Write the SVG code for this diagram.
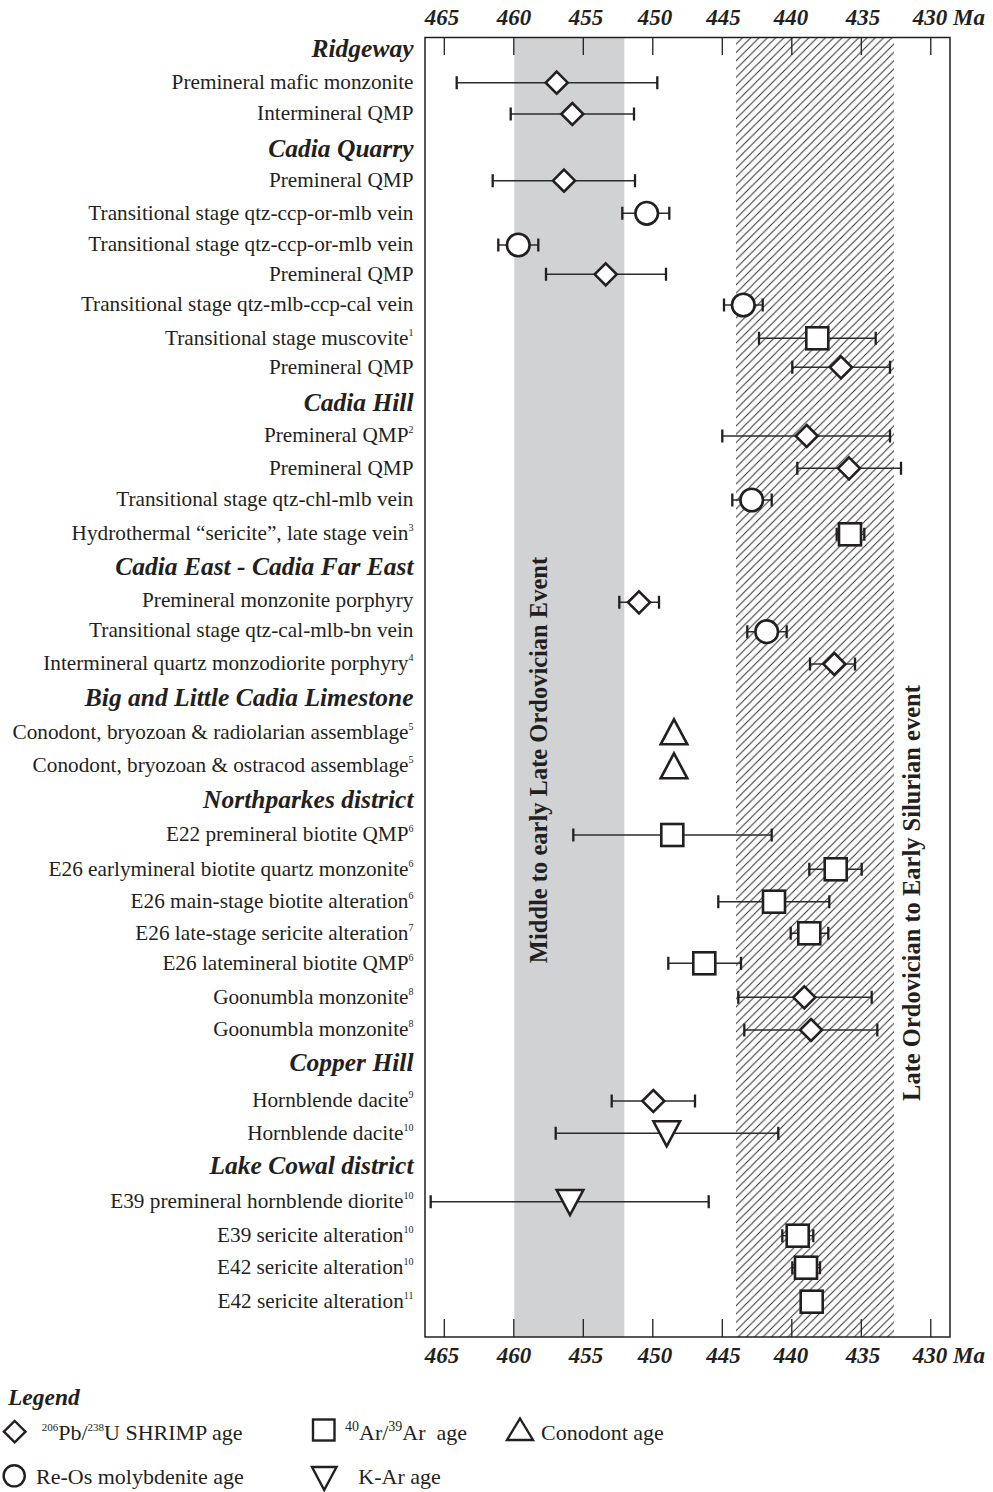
<svg xmlns="http://www.w3.org/2000/svg" width="993" height="1492" viewBox="0 0 993 1492">
<style>
text{font-family:"Liberation Serif","Times New Roman",serif;fill:#231f20}
.lbl{font-size:21.25px;text-anchor:end}
.hd{font-size:25.5px;font-weight:bold;font-style:italic;text-anchor:end}
.ax{font-size:23px;font-weight:bold;font-style:italic;text-anchor:middle}
.ev{font-size:24.5px;font-weight:bold;text-anchor:middle}
.lg{font-size:22px}
.sup{font-size:10px}
.eb{stroke:#2b2b2b;stroke-width:1.4;fill:none}
.cap{stroke:#231f20;stroke-width:2.3;fill:none}
.mk{fill:#fff;stroke:#231f20;stroke-width:2.6}
.lmk{fill:#fff;stroke:#231f20;stroke-width:2.4}
.tick{stroke:#231f20;stroke-width:1.3}
</style>
<defs>
<pattern id="hatch" patternUnits="userSpaceOnUse" width="8.3" height="8.3">
<path d="M-2,2L2,-2M0,8.3L8.3,0M6.3,10.3L10.3,6.3" stroke="#2e2e2e" stroke-width="1"/>
</pattern>
<path id="dia" d="M0,-11L11,0L0,11L-11,0Z"/>
<circle id="cir" r="11.3"/>
<rect id="sq" x="-11" y="-11" width="22" height="22"/>
<path id="tup" d="M0,-12.5L13.3,12.5L-13.3,12.5Z"/>
<path id="tdn" d="M-13.3,-12.5L13.3,-12.5L0,12.5Z"/>
</defs>

<g id="bands">
<rect x="514.3" y="37.5" width="110" height="1299.5" fill="#d1d2d4"/>
<rect x="736" y="37.5" width="158" height="1299.5" fill="url(#hatch)"/>
</g>

<g id="frame">
<rect x="425" y="37.5" width="525" height="1299.5" fill="none" stroke="#231f20" stroke-width="1.5"/>
<path class="tick" d="M444.3,37.5V55M513.8,37.5V55M583.3,37.5V55M652.8,37.5V55M722.3,37.5V55M791.8,37.5V55M861.3,37.5V55M930.8,37.5V55"/>
<path class="tick" d="M444.3,1319V1337M513.8,1319V1337M583.3,1319V1337M652.8,1319V1337M722.3,1319V1337M791.8,1319V1337M861.3,1319V1337M930.8,1319V1337"/>
</g>

<g id="axis-top">
<text class="ax" x="442" y="25">465</text>
<text class="ax" x="514" y="25">460</text>
<text class="ax" x="586" y="25">455</text>
<text class="ax" x="655" y="25">450</text>
<text class="ax" x="723.5" y="25">445</text>
<text class="ax" x="791" y="25">440</text>
<text class="ax" x="863" y="25">435</text>
<text class="ax" x="930" y="25">430</text>
<text class="ax" x="953" y="25" style="text-anchor:start">Ma</text>
</g>
<g id="axis-bottom">
<text class="ax" x="442" y="1363">465</text>
<text class="ax" x="514" y="1363">460</text>
<text class="ax" x="586" y="1363">455</text>
<text class="ax" x="655" y="1363">450</text>
<text class="ax" x="723.5" y="1363">445</text>
<text class="ax" x="791" y="1363">440</text>
<text class="ax" x="863" y="1363">435</text>
<text class="ax" x="930" y="1363">430</text>
<text class="ax" x="953" y="1363" style="text-anchor:start">Ma</text>
</g>

<g id="events">
<text class="ev" transform="translate(546.5,760) rotate(-90)">Middle to early Late Ordovician Event</text>
<text class="ev" transform="translate(920,893) rotate(-90)">Late Ordovician to Early Silurian event</text>
</g>

<g id="headings">
<text class="hd" x="413.5" y="57.3">Ridgeway</text>
<text class="hd" x="413.5" y="156.7">Cadia Quarry</text>
<text class="hd" x="413.5" y="411">Cadia Hill</text>
<text class="hd" x="413.5" y="575">Cadia East - Cadia Far East</text>
<text class="hd" x="413.5" y="705.7">Big and Little Cadia Limestone</text>
<text class="hd" x="413.5" y="807.5">Northparkes district</text>
<text class="hd" x="413.5" y="1070.5">Copper Hill</text>
<text class="hd" x="413.5" y="1173.5">Lake Cowal district</text>
</g>

<g id="connectors"></g>

<g id="r1"><text class="lbl" x="413.5" y="89.3">Premineral mafic monzonite</text>
<path class="eb" d="M456.7,82.7H657.3"/><path class="cap" d="M456.7,76.2v13M657.3,76.2v13"/>
<use href="#dia" class="mk" x="556.7" y="82.7"/></g>

<g id="r2"><text class="lbl" x="413.5" y="119.5">Intermineral QMP</text>
<path class="eb" d="M510.7,114H634"/><path class="cap" d="M510.7,107.5v13M634,107.5v13"/>
<use href="#dia" class="mk" x="572.3" y="114"/></g>

<g id="r4"><text class="lbl" x="413.5" y="187">Premineral QMP</text>
<path class="eb" d="M492.7,180.7H635"/><path class="cap" d="M492.7,174.2v13M635,174.2v13"/>
<use href="#dia" class="mk" x="564" y="180.7"/></g>

<g id="r5"><text class="lbl" x="413.5" y="219.5">Transitional stage qtz-ccp-or-mlb vein</text>
<path class="eb" d="M622.3,213.3H669.3"/><path class="cap" d="M622.3,206.8v13M669.3,206.8v13"/>
<use href="#cir" class="mk" x="646.7" y="213.3"/></g>

<g id="r6"><text class="lbl" x="413.5" y="251">Transitional stage qtz-ccp-or-mlb vein</text>
<path class="eb" d="M498.3,245H538.3"/><path class="cap" d="M498.3,238.5v13M538.3,238.5v13"/>
<use href="#cir" class="mk" x="518.3" y="245"/></g>

<g id="r7"><text class="lbl" x="413.5" y="280.5">Premineral QMP</text>
<path class="eb" d="M546,274.3H666"/><path class="cap" d="M546,267.8v13M666,267.8v13"/>
<use href="#dia" class="mk" x="605.7" y="274.3"/></g>

<g id="r8"><text class="lbl" x="413.5" y="311">Transitional stage qtz-mlb-ccp-cal vein</text>
<path class="eb" d="M724,305H762.7"/><path class="cap" d="M724,298.5v13M762.7,298.5v13"/>
<use href="#cir" class="mk" x="743.3" y="305"/></g>

<g id="r9"><text class="lbl" x="413.5" y="344.5">Transitional stage muscovite<tspan class="sup" dy="-9">1</tspan></text>
<path class="eb" d="M759,338.3H875.7"/><path class="cap" d="M759,331.8v13M875.7,331.8v13"/>
<use href="#sq" class="mk" x="817.3" y="338.3"/></g>

<g id="r10"><text class="lbl" x="413.5" y="373.5">Premineral QMP</text>
<path class="eb" d="M792.3,367.3H890"/><path class="cap" d="M792.3,360.8v13M890,360.8v13"/>
<use href="#dia" class="mk" x="841" y="367.3"/></g>

<g id="r12"><text class="lbl" x="413.5" y="442">Premineral QMP<tspan class="sup" dy="-9">2</tspan></text>
<path class="eb" d="M722.3,436H890"/><path class="cap" d="M722.3,429.5v13M890,429.5v13"/>
<use href="#dia" class="mk" x="806.7" y="436"/></g>

<g id="r13"><text class="lbl" x="413.5" y="474.5">Premineral QMP</text>
<path class="eb" d="M797.3,468.3H901"/><path class="cap" d="M797.3,461.8v13M901,461.8v13"/>
<use href="#dia" class="mk" x="849" y="468.3"/></g>

<g id="r14"><text class="lbl" x="413.5" y="506">Transitional stage qtz-chl-mlb vein</text>
<path class="eb" d="M732.3,500H771.7"/><path class="cap" d="M732.3,493.5v13M771.7,493.5v13"/>
<use href="#cir" class="mk" x="751.7" y="500"/></g>

<g id="r15"><text class="lbl" x="413.5" y="540">Hydrothermal “sericite”, late stage vein<tspan class="sup" dy="-9">3</tspan></text>
<path class="eb" d="M836.7,534.3H864.3"/><path class="cap" d="M836.7,527.8v13M864.3,527.8v13"/>
<use href="#sq" class="mk" x="850" y="534.3"/></g>

<g id="r17"><text class="lbl" x="413.5" y="607">Premineral monzonite porphyry</text>
<path class="eb" d="M619.3,602.3H659"/><path class="cap" d="M619.3,595.8v13M659,595.8v13"/>
<use href="#dia" class="mk" x="639" y="602.3"/></g>

<g id="r18"><text class="lbl" x="413.5" y="637.3">Transitional stage qtz-cal-mlb-bn vein</text>
<path class="eb" d="M747.3,631.7H786.7"/><path class="cap" d="M747.3,625.2v13M786.7,625.2v13"/>
<use href="#cir" class="mk" x="766.7" y="631.7"/></g>

<g id="r19"><text class="lbl" x="413.5" y="670">Intermineral quartz monzodiorite porphyry<tspan class="sup" dy="-9">4</tspan></text>
<path class="eb" d="M810,664H855"/><path class="cap" d="M810,657.5v13M855,657.5v13"/>
<use href="#dia" class="mk" x="834.3" y="664"/></g>

<g id="r21"><text class="lbl" x="413.5" y="739.3">Conodont, bryozoan &amp; radiolarian assemblage<tspan class="sup" dy="-9">5</tspan></text>
<use href="#tup" class="mk" x="674" y="731.8"/></g>

<g id="r22"><text class="lbl" x="413.5" y="771.7">Conodont, bryozoan &amp; ostracod assemblage<tspan class="sup" dy="-9">5</tspan></text>
<use href="#tup" class="mk" x="674" y="765.8"/></g>

<g id="r24"><text class="lbl" x="413.5" y="841">E22 premineral biotite QMP<tspan class="sup" dy="-9">6</tspan></text>
<path class="eb" d="M573.3,835H771.7"/><path class="cap" d="M573.3,828.5v13M771.7,828.5v13"/>
<use href="#sq" class="mk" x="672.3" y="835"/></g>

<g id="r25"><text class="lbl" x="413.5" y="875.5">E26 earlymineral biotite quartz monzonite<tspan class="sup" dy="-9">6</tspan></text>
<path class="eb" d="M809.3,869.3H861.7"/><path class="cap" d="M809.3,862.8v13M861.7,862.8v13"/>
<use href="#sq" class="mk" x="835.7" y="869.3"/></g>

<g id="r26"><text class="lbl" x="413.5" y="907.5">E26 main-stage biotite alteration<tspan class="sup" dy="-9">6</tspan></text>
<path class="eb" d="M718.3,901.7H829.3"/><path class="cap" d="M718.3,895.2v13M829.3,895.2v13"/>
<use href="#sq" class="mk" x="774" y="901.7"/></g>

<g id="r27"><text class="lbl" x="413.5" y="939.5">E26 late-stage sericite alteration<tspan class="sup" dy="-9">7</tspan></text>
<path class="eb" d="M790.7,933.3H828.3"/><path class="cap" d="M790.7,926.8v13M828.3,926.8v13"/>
<use href="#sq" class="mk" x="809.3" y="933.3"/></g>

<g id="r28"><text class="lbl" x="413.5" y="969.5">E26 latemineral biotite QMP<tspan class="sup" dy="-9">6</tspan></text>
<path class="eb" d="M668.3,963.3H741"/><path class="cap" d="M668.3,956.8v13M741,956.8v13"/>
<use href="#sq" class="mk" x="704.3" y="963.3"/></g>

<g id="r29"><text class="lbl" x="413.5" y="1003.5">Goonumbla monzonite<tspan class="sup" dy="-9">8</tspan></text>
<path class="eb" d="M738.3,997.3H871.7"/><path class="cap" d="M738.3,990.8v13M871.7,990.8v13"/>
<use href="#dia" class="mk" x="804.3" y="997.3"/></g>

<g id="r30"><text class="lbl" x="413.5" y="1036">Goonumbla monzonite<tspan class="sup" dy="-9">8</tspan></text>
<path class="eb" d="M744.3,1030H877.3"/><path class="cap" d="M744.3,1023.5v13M877.3,1023.5v13"/>
<use href="#dia" class="mk" x="811" y="1030"/></g>

<g id="r32"><text class="lbl" x="413.5" y="1107">Hornblende dacite<tspan class="sup" dy="-9">9</tspan></text>
<path class="eb" d="M611.7,1101H695"/><path class="cap" d="M611.7,1094.5v13M695,1094.5v13"/>
<use href="#dia" class="mk" x="653.3" y="1101"/></g>

<g id="r33"><text class="lbl" x="413.5" y="1139.5">Hornblende dacite<tspan class="sup" dy="-9">10</tspan></text>
<path class="eb" d="M555.7,1133.3H778.3"/><path class="cap" d="M555.7,1126.8v13M778.3,1126.8v13"/>
<use href="#tdn" class="mk" x="666.7" y="1133.8"/></g>

<g id="r35"><text class="lbl" x="413.5" y="1208">E39 premineral hornblende diorite<tspan class="sup" dy="-9">10</tspan></text>
<path class="eb" d="M430.7,1201.7H708.7"/><path class="cap" d="M430.7,1195.2v13M708.7,1195.2v13"/>
<use href="#tdn" class="mk" x="570" y="1202.5"/></g>

<g id="r36"><text class="lbl" x="413.5" y="1242">E39 sericite alteration<tspan class="sup" dy="-9">10</tspan></text>
<path class="eb" d="M782.3,1235.7H813.3"/><path class="cap" d="M782.3,1229.2v13M813.3,1229.2v13"/>
<use href="#sq" class="mk" x="797.7" y="1235.7"/></g>

<g id="r37"><text class="lbl" x="413.5" y="1274">E42 sericite alteration<tspan class="sup" dy="-9">10</tspan></text>
<path class="eb" d="M792.3,1267.7H820"/><path class="cap" d="M792.3,1261.2v13M820,1261.2v13"/>
<use href="#sq" class="mk" x="806" y="1267.7"/></g>

<g id="r38"><text class="lbl" x="413.5" y="1308">E42 sericite alteration<tspan class="sup" dy="-9">11</tspan></text>
<use href="#sq" class="mk" x="811.7" y="1301.7"/></g>

<g id="legend">
<text x="8" y="1405" style="font-size:23.5px;font-weight:bold;font-style:italic">Legend</text>
<path class="lmk" d="M14.7,1421L25.5,1431.7L14.7,1442.4L3.9,1431.7Z"/>
<text class="lg" x="41.7" y="1440"><tspan style="font-size:11px" dy="-9">206</tspan><tspan dy="9">Pb/</tspan><tspan style="font-size:11px" dy="-9">238</tspan><tspan dy="9">U SHRIMP age</tspan></text>
<rect class="lmk" x="313" y="1419.5" width="21.5" height="21"/>
<text class="lg" x="345" y="1440"><tspan style="font-size:14px" dy="-9">40</tspan><tspan dy="9">Ar/</tspan><tspan style="font-size:14px" dy="-9">39</tspan><tspan dy="9">Ar</tspan><tspan dx="11">age</tspan></text>
<path class="lmk" d="M520,1418.5L533,1440L507,1440Z"/>
<text class="lg" x="541" y="1440">Conodont age</text>
<circle class="lmk" cx="14.2" cy="1475.8" r="10.6"/>
<text class="lg" x="36" y="1484">Re-Os molybdenite age</text>
<path class="lmk" d="M312,1467L336.5,1467L324.2,1490Z"/>
<text class="lg" x="358.3" y="1484">K-Ar age</text>
</g>
</svg>
